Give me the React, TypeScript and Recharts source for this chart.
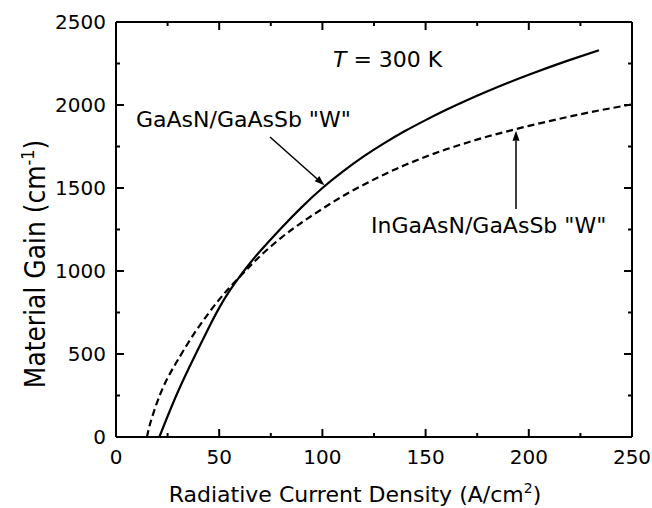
import { LineChart, Line, XAxis, YAxis, ReferenceLine } from "recharts";

// GaAsN/GaAsSb "W" (solid)
const solidJ = [21, 25, 30, 35, 40, 45, 50, 55, 60, 65, 70, 80, 90, 100, 110, 120, 130, 140, 150, 160, 170, 180, 190, 200, 210, 220, 234];
const solidG = [0, 125, 273, 407, 535, 660, 778, 880, 968, 1048, 1122, 1258, 1385, 1500, 1600, 1690, 1770, 1843, 1909, 1971, 2029, 2083, 2134, 2182, 2228, 2272, 2330];

// InGaAsN/GaAsSb "W" (dashed)
const dashedJ = [15, 16, 17.5, 20, 22.5, 25, 27.5, 30, 35, 40, 45, 50, 55, 60, 65, 70, 80, 90, 100, 110, 120, 130, 140, 150, 160, 170, 180, 190, 200, 210, 220, 230, 240, 250];
const dashedG = [0, 55, 120, 212, 290, 355, 412, 465, 568, 662, 748, 828, 900, 966, 1030, 1092, 1200, 1292, 1375, 1452, 1520, 1582, 1638, 1688, 1733, 1773, 1810, 1843, 1874, 1903, 1931, 1957, 1981, 2004];

const xTicks = [0, 25, 50, 75, 100, 125, 150, 175, 200, 225, 250];
const yTicks = [0, 250, 500, 750, 1000, 1250, 1500, 1750, 2000, 2250, 2500];

// annotation arrows: [from, to] in data units
const arrowSolid = [{ x: 74.6, y: 1807 }, { x: 101, y: 1516 }];
const arrowDashed = [{ x: 193.8, y: 1373 }, { x: 193.8, y: 1845 }];

const solidData = solidJ.map((j, i) => ({ j, g: solidG[i] }));
const dashedData = dashedJ.map((j, i) => ({ j, g: dashedG[i] }));

const FONT = "'DejaVu Sans', sans-serif";
const frame = { stroke: "#000", strokeWidth: 2 };

const BottomTick = ({ x, y, payload }: any) => {
  const major = payload.value % 50 === 0;
  return (
    <g>
      <line x1={x} y1={y} x2={x} y2={y - (major ? 8 : 4)} stroke="#000" strokeWidth={2} />
      {major && (
        <text x={x} y={y + 27} textAnchor="middle" fontSize={20} fontFamily={FONT} fill="#000">
          {payload.value}
        </text>
      )}
    </g>
  );
};

const LeftTick = ({ x, y, payload }: any) => {
  const major = payload.value % 500 === 0;
  return (
    <g>
      <line x1={x} y1={y} x2={x + (major ? 8 : 4)} y2={y} stroke="#000" strokeWidth={2} />
      {major && (
        <text x={x - 10} y={y + 7} textAnchor="end" fontSize={20} fontFamily={FONT} fill="#000">
          {payload.value}
        </text>
      )}
    </g>
  );
};

// inward ticks on the top edge, drawn from a vertical reference line
const topTick = (major: boolean) => (p: any) => {
  const top = Math.min(p.y1, p.y2);
  return <line x1={p.x1} y1={top} x2={p.x1} y2={top + (major ? 8 : 4)} stroke="#000" strokeWidth={2} />;
};

// inward ticks on the right edge, drawn from a horizontal reference line
const rightTick = (major: boolean) => (p: any) => {
  const right = Math.max(p.x1, p.x2);
  return <line x1={right} y1={p.y1} x2={right - (major ? 8 : 4)} y2={p.y1} stroke="#000" strokeWidth={2} />;
};

const Arrow = (props: any) => {
  const { x1, y1, x2, y2 } = props;
  const ang = Math.atan2(y2 - y1, x2 - x1);
  const len = 10;
  const w = 3.5;
  const bx = x2 - len * Math.cos(ang);
  const by = y2 - len * Math.sin(ang);
  const px = -Math.sin(ang) * w;
  const py = Math.cos(ang) * w;
  return (
    <g>
      <line x1={x1} y1={y1} x2={bx} y2={by} stroke="#000" strokeWidth={1.5} />
      <polygon points={`${x2},${y2} ${bx + px},${by + py} ${bx - px},${by - py}`} fill="#000" />
    </g>
  );
};

export default function App() {
  return (
    <div style={{ position: "absolute", left: 0, top: 0, width: 652, height: 508, background: "#fff" }}>
      <LineChart width={652} height={508} margin={{ top: 22, right: 20, bottom: 0, left: 0 }}>
        <XAxis
          type="number"
          dataKey="j"
          domain={[0, 250]}
          ticks={xTicks}
          interval={0}
          height={71}
          tickSize={0}
          tickMargin={0}
          tick={<BottomTick />}
          axisLine={frame}
          tickLine={false}
          allowDataOverflow
        />
        <YAxis
          type="number"
          domain={[0, 2500]}
          ticks={yTicks}
          interval={0}
          width={116}
          tickSize={0}
          tickMargin={0}
          tick={<LeftTick />}
          axisLine={frame}
          tickLine={false}
          allowDataOverflow
        />
        <ReferenceLine y={2500} stroke="#000" strokeWidth={2} ifOverflow="visible" />
        <ReferenceLine x={250} stroke="#000" strokeWidth={2} ifOverflow="visible" />
        {xTicks.map((v) => (
          <ReferenceLine key={`t${v}`} x={v} shape={topTick(v % 50 === 0)} ifOverflow="visible" />
        ))}
        {yTicks.map((v) => (
          <ReferenceLine key={`r${v}`} y={v} shape={rightTick(v % 500 === 0)} ifOverflow="visible" />
        ))}
        <Line
          data={solidData}
          dataKey="g"
          type="natural"
          stroke="#000"
          strokeWidth={2.2}
          dot={false}
          isAnimationActive={false}
        />
        <Line
          data={dashedData}
          dataKey="g"
          type="natural"
          stroke="#000"
          strokeWidth={2.2}
          strokeDasharray="7 4"
          dot={false}
          isAnimationActive={false}
        />
        <ReferenceLine segment={arrowSolid} shape={Arrow} ifOverflow="visible" />
        <ReferenceLine segment={arrowDashed} shape={Arrow} ifOverflow="visible" />
      </LineChart>
      <svg
        width={652}
        height={508}
        style={{ position: "absolute", left: 0, top: 0, pointerEvents: "none" }}
        fontFamily={FONT}
        fill="#000"
      >
        <text x={333} y={67} fontSize={22}>
          <tspan fontStyle="italic">T</tspan> = 300 K
        </text>
        <text x={136} y={127} fontSize={22}>GaAsN/GaAsSb "W"</text>
        <text x={371} y={233} fontSize={22}>InGaAsN/GaAsSb "W"</text>
        <text x={355} y={502} fontSize={22} textAnchor="middle">
          Radiative Current Density (A/cm
          <tspan fontSize={14} dy={-9}>2</tspan>
          <tspan dy={9}>)</tspan>
        </text>
        <text x={0} y={0} fontSize={25} textAnchor="middle" transform="translate(45,264) rotate(-90) scale(1,1.1)">
          Material Gain (cm
          <tspan fontSize={16} dy={-10}>-1</tspan>
          <tspan dy={10}>)</tspan>
        </text>
      </svg>
    </div>
  );
}
